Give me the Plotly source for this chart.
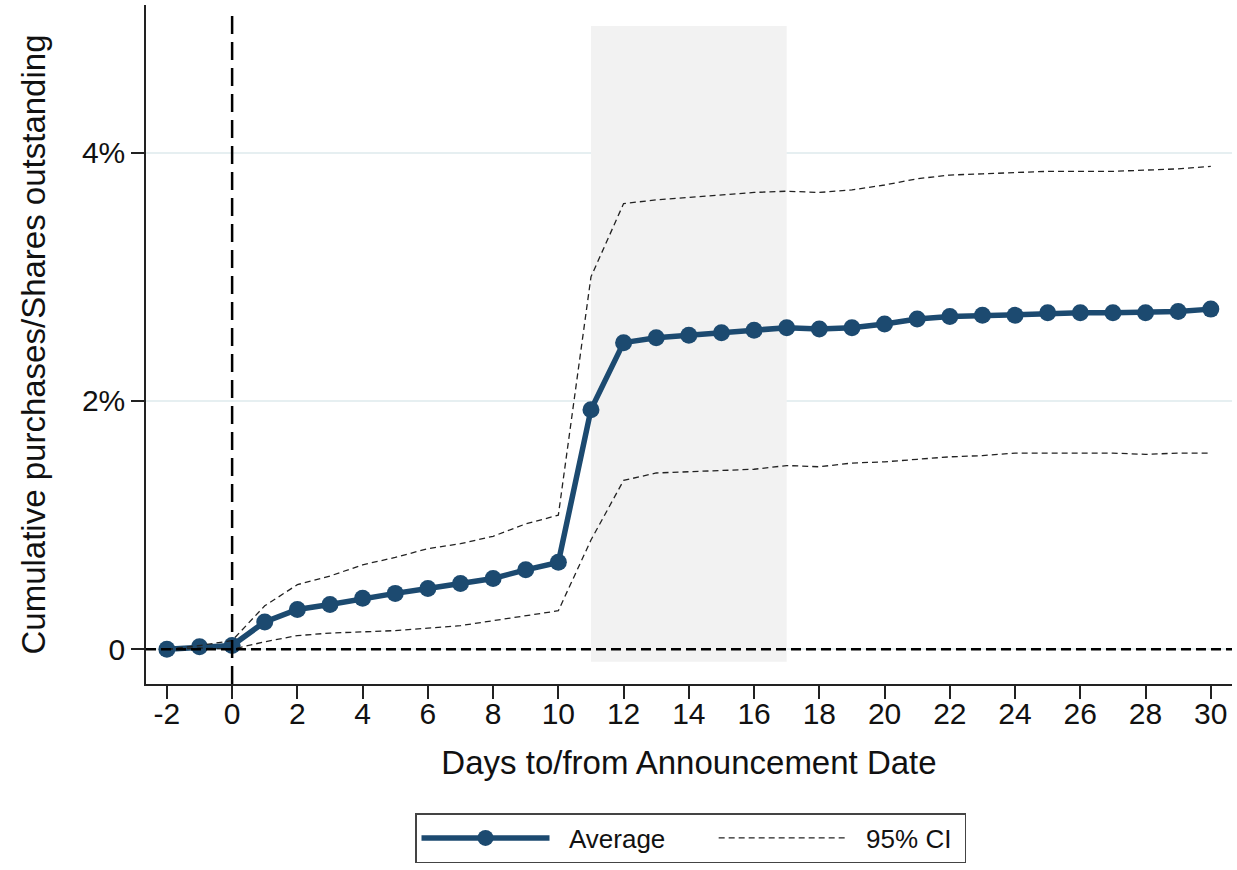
import plotly.graph_objects as go

# Event window (days relative to the announcement)
days = list(range(-2, 31))

# Cumulative purchases / shares outstanding, in percent
average = [0.00, 0.02, 0.03, 0.22, 0.32, 0.36, 0.41, 0.45, 0.49, 0.53, 0.57, 0.64, 0.70,
           1.93, 2.47, 2.51, 2.53, 2.55, 2.57, 2.59, 2.58, 2.59, 2.62, 2.66, 2.68, 2.69,
           2.69, 2.71, 2.71, 2.71, 2.71, 2.72, 2.74]
ci_upper = [0.00, 0.03, 0.07, 0.35, 0.52, 0.59, 0.68, 0.74, 0.81, 0.85, 0.91, 1.01, 1.08,
            3.00, 3.59, 3.62, 3.64, 3.66, 3.68, 3.69, 3.68, 3.70, 3.74, 3.79, 3.82, 3.83,
            3.84, 3.85, 3.85, 3.85, 3.86, 3.87, 3.89]
ci_lower = [0.00, 0.01, 0.00, 0.06, 0.11, 0.13, 0.14, 0.15, 0.17, 0.19, 0.23, 0.27, 0.31,
            0.88, 1.36, 1.42, 1.43, 1.44, 1.45, 1.48, 1.47, 1.50, 1.51, 1.53, 1.55, 1.56,
            1.58, 1.58, 1.58, 1.58, 1.57, 1.58, 1.58]

x_ticks = [-2, 0, 2, 4, 6, 8, 10, 12, 14, 16, 18, 20, 22, 24, 26, 28, 30]
x_tick_text = ["-2", "0", "2", "4", "6", "8", "10", "12", "14", "16", "18", "20",
               "22", "24", "26", "28", "30"]
y_ticks = [0, 2, 4]
y_tick_text = ["0", "2%", "4%"]

# Highlighted window
shade_start, shade_end = 11, 17

NAVY = "#1c4a70"
FONT = "Liberation Sans, Arial, sans-serif"
NB = "\u00a0"

fig = go.Figure()

fig.add_trace(go.Scatter(
    x=days, y=average, name=NB * 2 + "Average" + NB * 6, mode="lines+markers",
    line=dict(color=NAVY, width=5.5),
    marker=dict(color=NAVY, size=17),
))
fig.add_trace(go.Scatter(
    x=days, y=ci_upper, name=NB * 2 + "95% CI" + NB, mode="lines",
    line=dict(color="#222222", width=1.3, dash="6px,4px"),
))
fig.add_trace(go.Scatter(
    x=days, y=ci_lower, name="95% CI", mode="lines", showlegend=False,
    line=dict(color="#222222", width=1.3, dash="6px,4px"),
))

# Shaded period
fig.add_shape(type="rect", xref="x", yref="y", x0=shade_start, x1=shade_end,
              y0=-0.1, y1=5.02, fillcolor="#f2f2f2", line=dict(width=0),
              layer="between")
# Announcement date marker and zero reference
fig.add_shape(type="line", xref="x", yref="y", x0=0, x1=0, y0=-0.28, y1=5.15,
              line=dict(color="black", width=2.5, dash="18px,8px"), layer="above")
fig.add_shape(type="line", xref="paper", yref="y", x0=0, x1=1, y0=0, y1=0,
              line=dict(color="black", width=2.5, dash="10px,5px"), layer="above")

fig.update_layout(
    width=1237, height=870,
    margin=dict(l=146, r=5, t=5, b=186),
    paper_bgcolor="white", plot_bgcolor="white",
    font=dict(family=FONT, color="#111111", size=30),
    showlegend=True,
    legend=dict(
        orientation="h", x=0.2477, y=-0.1900, xanchor="left", yanchor="top",
        bordercolor="#444444", borderwidth=1.5, bgcolor="white",
        font=dict(size=26, family=FONT, color="#111111"),
        itemwidth=128, tracegroupgap=0,
    ),
    xaxis=dict(
        range=[-2.64, 30.65], tickvals=x_ticks, ticktext=x_tick_text,
        ticks="outside", ticklen=13,
        tickwidth=1.5, tickcolor="#222222", showline=True, linecolor="#222222",
        linewidth=1.5, showgrid=False, zeroline=False, automargin=False,
        tickfont=dict(size=30), ticklabelstandoff=-11,
        title=dict(text="Days to/from Announcement Date", standoff=22,
                   font=dict(size=33)),
    ),
    yaxis=dict(
        range=[-0.28, 5.19], tickvals=y_ticks, ticktext=y_tick_text,
        ticks="outside", ticklen=13, tickwidth=1.5, tickcolor="#222222",
        showline=True, linecolor="#222222", linewidth=1.5,
        showgrid=True, gridcolor="#e6eff1", gridwidth=2, zeroline=False,
        automargin=False, tickfont=dict(size=30),
        title=dict(text="Cumulative purchases/Shares outstanding", standoff=26,
                   font=dict(size=33)),
    ),
)

fig.write_html("out.html")
